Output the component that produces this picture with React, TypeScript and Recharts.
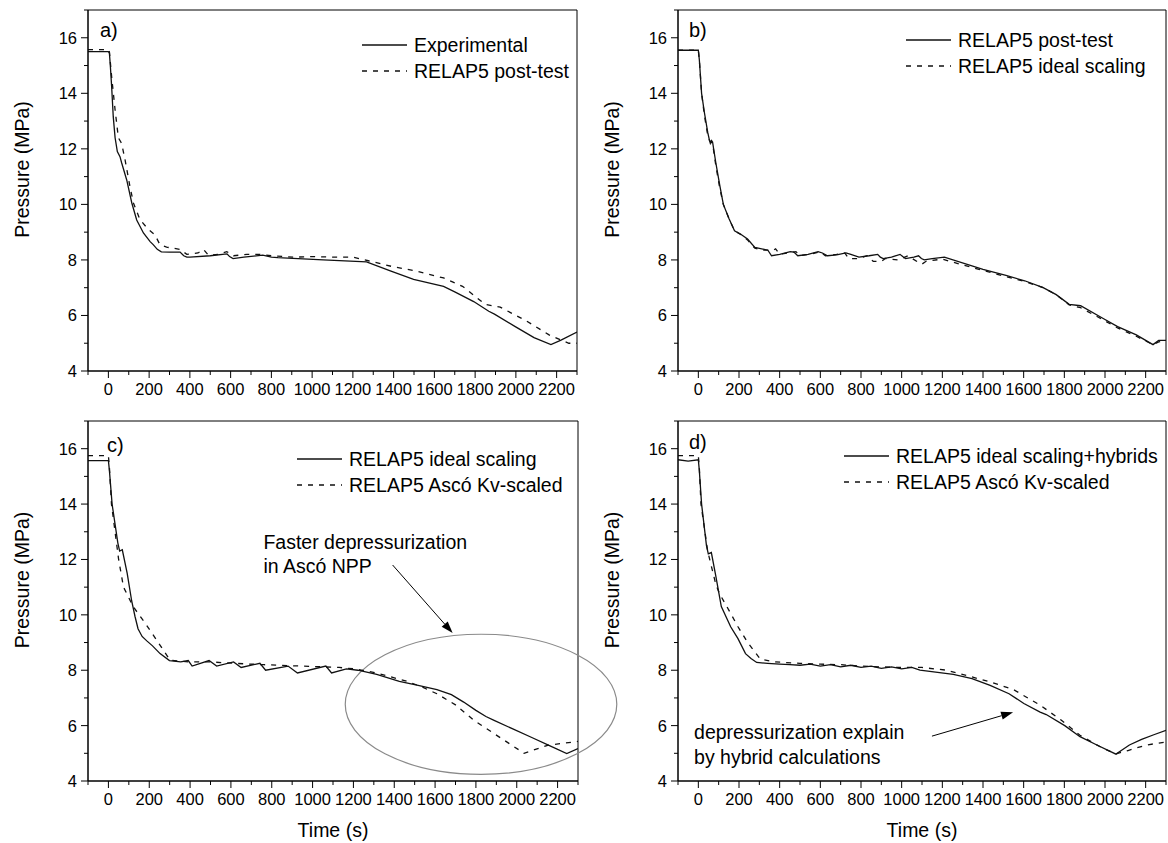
import React from "react";
import {
  LineChart,
  Line,
  XAxis,
  YAxis,
  ReferenceArea,
  ReferenceLine,
  ReferenceDot,
  Legend,
} from "recharts";

type Pt = [number, number];
type Series = { name: string; pts: Pt[]; dashed?: boolean };

const FONT = '"Liberation Sans", Arial, Helvetica, sans-serif';

// axis ticks (labels only on the 200 s / 2 MPa majors)
const xTicks = [-100, 0, 100, 200, 300, 400, 500, 600, 700, 800, 900, 1000, 1100, 1200, 1300, 1400, 1500, 1600, 1700, 1800, 1900, 2000, 2100, 2200, 2300];
const yTicks = [4, 5, 6, 7, 8, 9, 10, 11, 12, 13, 14, 15, 16, 17];

// a)
const aExperimental: Pt[] = [
  [-100, 15.5], [0, 15.5], [5, 15.45], [10, 14.95], [16, 14.25], [24, 13.15], [33, 12.4], [44, 11.9],
  [57, 11.72], [65, 11.5], [90, 10.88], [115, 10.05], [139, 9.44], [172, 8.97], [205, 8.66], [220, 8.55],
  [240, 8.38], [260, 8.29], [300, 8.28], [352, 8.28], [370, 8.15], [385, 8.1], [400, 8.1], [500, 8.15],
  [582, 8.22], [595, 8.12], [612, 8.05], [665, 8.1], [758, 8.17], [800, 8.1], [832, 8.08], [1054, 8.0],
  [1267, 7.93], [1387, 7.6], [1498, 7.3], [1645, 7.05], [1700, 6.85], [1793, 6.5], [1867, 6.15],
  [1895, 6.05], [1997, 5.6], [2089, 5.2], [2172, 4.95], [2219, 5.1], [2300, 5.4],
];
const aPostTest: Pt[] = [
  [-100, 15.57], [0, 15.57], [5, 15.5], [16, 14.6], [33, 13.4], [49, 12.4], [65, 12.2], [82, 11.6],
  [106, 10.64], [123, 10.05], [155, 9.45], [196, 9.1], [229, 8.9], [253, 8.55], [286, 8.46], [352, 8.38],
  [385, 8.2], [440, 8.25], [467, 8.38], [491, 8.17], [540, 8.2], [581, 8.3], [614, 8.15], [680, 8.2],
  [745, 8.2], [800, 8.15], [909, 8.1], [1000, 8.12], [1100, 8.1], [1200, 8.1], [1276, 7.97], [1400, 7.75],
  [1498, 7.62], [1645, 7.35], [1738, 7.05], [1849, 6.4], [1923, 6.3], [2052, 5.8], [2163, 5.3],
  [2219, 5.12], [2260, 5.0], [2300, 5.0],
];

// b)
const bPostTest: Pt[] = [
  [-100, 15.55], [0, 15.55], [5, 15.2], [16, 14.0], [30, 13.3], [46, 12.6], [55, 12.3], [59, 12.2],
  [65, 12.3], [70, 12.25], [86, 11.5], [105, 10.7], [123, 10.0], [150, 9.5], [178, 9.05], [214, 8.9],
  [242, 8.75], [278, 8.45], [324, 8.38], [342, 8.35], [360, 8.15], [400, 8.2], [452, 8.3], [470, 8.28],
  [489, 8.15], [540, 8.2], [589, 8.3], [610, 8.25], [635, 8.15], [680, 8.18], [726, 8.25], [750, 8.2],
  [790, 8.1], [840, 8.15], [882, 8.2], [895, 8.1], [909, 8.05], [950, 8.1], [992, 8.2], [1005, 8.12],
  [1019, 8.05], [1060, 8.1], [1083, 8.15], [1097, 8.05], [1111, 8.0], [1150, 8.05], [1210, 8.1],
  [1400, 7.66], [1513, 7.44], [1605, 7.25], [1696, 7.0], [1760, 6.75], [1824, 6.4], [1880, 6.35],
  [1989, 5.9], [2062, 5.6], [2154, 5.3], [2236, 4.95], [2264, 5.1], [2300, 5.1],
];
const bIdeal: Pt[] = [
  [-100, 15.55], [0, 15.55], [5, 15.2], [16, 14.0], [30, 13.2], [46, 12.5], [55, 12.3], [62, 12.25],
  [70, 12.2], [86, 11.4], [105, 10.6], [123, 10.0], [150, 9.5], [178, 9.05], [214, 8.9], [242, 8.72],
  [278, 8.42], [324, 8.35], [370, 8.35], [380, 8.4], [400, 8.2], [440, 8.25], [480, 8.3], [500, 8.15],
  [560, 8.22], [600, 8.3], [625, 8.15], [680, 8.2], [720, 8.25], [740, 8.05], [790, 8.05], [830, 8.15],
  [860, 7.95], [900, 7.95], [920, 8.05], [980, 8.0], [1000, 8.05], [1030, 8.15], [1080, 7.92],
  [1100, 7.85], [1120, 7.95], [1200, 8.03], [1300, 7.82], [1400, 7.62], [1513, 7.4], [1605, 7.22],
  [1696, 7.0], [1760, 6.75], [1824, 6.38], [1880, 6.28], [1989, 5.85], [2062, 5.55], [2154, 5.25],
  [2236, 4.95], [2264, 5.05], [2300, 5.1],
];

// c)
const cIdeal: Pt[] = [
  [-100, 15.57], [0, 15.57], [5, 15.2], [18, 14.0], [46, 12.6], [55, 12.3], [68, 12.35], [92, 11.5],
  [114, 10.5], [130, 9.95], [145, 9.5], [165, 9.22], [188, 9.06], [216, 8.88], [253, 8.6], [299, 8.35],
  [354, 8.3], [391, 8.35], [410, 8.15], [493, 8.35], [530, 8.15], [613, 8.3], [650, 8.1], [742, 8.25],
  [770, 8.0], [880, 8.15], [926, 7.9], [1065, 8.15], [1093, 7.9], [1166, 8.05], [1222, 8.0],
  [1314, 7.85], [1425, 7.6], [1517, 7.45], [1609, 7.3], [1680, 7.12], [1740, 6.85], [1800, 6.55],
  [1849, 6.33], [1889, 6.19], [1978, 5.89], [2071, 5.58], [2163, 5.27], [2245, 4.99], [2300, 5.17],
];
const cAsco: Pt[] = [
  [-100, 15.75], [0, 15.75], [5, 15.3], [15, 14.0], [50, 12.0], [74, 11.0], [122, 10.29], [180, 9.7],
  [237, 9.08], [302, 8.36], [391, 8.3], [500, 8.3], [613, 8.25], [760, 8.2], [945, 8.15], [1130, 8.1],
  [1203, 8.05], [1314, 7.9], [1462, 7.6], [1535, 7.4], [1609, 7.15], [1700, 6.75], [1790, 6.19],
  [2036, 5.0], [2151, 5.29], [2300, 5.43],
];

// d)
const dHybrid: Pt[] = [
  [-100, 15.6], [-50, 15.55], [0, 15.6], [5, 15.2], [16, 14.0], [40, 12.5], [49, 12.2], [64, 12.25],
  [86, 11.4], [113, 10.3], [159, 9.57], [195, 9.14], [232, 8.6], [259, 8.42], [287, 8.28], [341, 8.25],
  [400, 8.22], [450, 8.2], [500, 8.18], [550, 8.22], [600, 8.15], [650, 8.2], [700, 8.12], [750, 8.18],
  [800, 8.1], [850, 8.15], [900, 8.07], [950, 8.12], [1000, 8.05], [1050, 8.1], [1090, 8.0],
  [1254, 7.85], [1346, 7.7], [1435, 7.45], [1528, 7.15], [1601, 6.8], [1681, 6.49], [1711, 6.4],
  [1802, 6.0], [1877, 5.6], [1960, 5.3], [2054, 4.97], [2080, 5.1], [2120, 5.3], [2180, 5.5],
  [2240, 5.67], [2300, 5.83],
];
const dAsco: Pt[] = [
  [-100, 15.75], [0, 15.75], [5, 15.3], [13, 14.0], [46, 12.3], [86, 11.1], [104, 10.77], [150, 10.17],
  [195, 9.57], [241, 9.02], [278, 8.66], [305, 8.4], [378, 8.3], [500, 8.25], [600, 8.22], [700, 8.2],
  [800, 8.15], [900, 8.12], [1000, 8.1], [1100, 8.1], [1222, 8.0], [1435, 7.58], [1550, 7.3],
  [1681, 6.74], [1784, 6.2], [1877, 5.65], [1985, 5.2], [2054, 4.98], [2113, 5.1], [2204, 5.3],
  [2300, 5.41],
];

const cNote = ["Faster depressurization", "in Ascó NPP"];
const dNote = ["depressurization explain", "by hybrid calculations"];

const toRows = (pts: Pt[]) => pts.map(([t, p]) => ({ t, p }));

function XTick(props: any) {
  const { x, y, payload } = props;
  const v = payload.value;
  const major = v % 200 === 0;
  return (
    <g>
      <line x1={x} x2={x} y1={y} y2={y + (major ? 7 : 4)} stroke="#000" />
      {major && v >= 0 && v <= 2200 && (
        <text x={x} y={y + 24} textAnchor="middle" fontSize={16.5} fontFamily={FONT} fill="#000">
          {v}
        </text>
      )}
    </g>
  );
}

function YTick(props: any) {
  const { x, y, payload } = props;
  const v = payload.value;
  const major = v % 2 === 0;
  return (
    <g>
      <line x1={x} x2={x - (major ? 7 : 4)} y1={y} y2={y} stroke="#000" />
      {major && v <= 16 && (
        <text x={x - 11} y={y + 6} textAnchor="end" fontSize={16.5} fontFamily={FONT} fill="#000">
          {v}
        </text>
      )}
    </g>
  );
}

function pressureTitle(props: any) {
  const vb = props.viewBox;
  const cx = vb.x + vb.width - 66;
  const cy = vb.y + vb.height / 2 - 21;
  return (
    <text x={cx} y={cy} transform={`rotate(-90 ${cx} ${cy})`} textAnchor="middle" dominantBaseline="central" fontSize={19.5} fontFamily={FONT} fill="#000">
      Pressure (MPa)
    </text>
  );
}

function timeTitle(props: any) {
  const vb = props.viewBox;
  return (
    <text x={vb.x + vb.width / 2} y={vb.y + 49} textAnchor="middle" dominantBaseline="central" fontSize={19.5} fontFamily={FONT} fill="#000">
      Time (s)
    </text>
  );
}

const arrowShape = (p: any) => {
  const { x1, y1, x2, y2 } = p;
  const a = Math.atan2(y2 - y1, x2 - x1);
  const len = 12;
  const half = 4;
  const bx = x2 - len * Math.cos(a);
  const by = y2 - len * Math.sin(a);
  const pts = `${x2},${y2} ${bx - half * Math.sin(a)},${by + half * Math.cos(a)} ${bx + half * Math.sin(a)},${by - half * Math.cos(a)}`;
  return (
    <g>
      <line x1={x1} y1={y1} x2={bx} y2={by} stroke="#000" strokeWidth={1} />
      <polygon points={pts} fill="#000" />
    </g>
  );
};

const ellipseShape = (p: any) => (
  <ellipse cx={p.x + p.width / 2} cy={p.y + p.height / 2} rx={Math.abs(p.width) / 2} ry={Math.abs(p.height) / 2} fill="none" stroke="#8a8a8a" strokeWidth={1.2} />
);

const noteShape = (lines: string[], gap: number) => (p: any) => (
  <text x={p.cx} y={p.cy} fontSize={19.5} fontFamily={FONT} fill="#000">
    {lines.map((l, i) => (
      <tspan key={i} x={p.cx} dy={i === 0 ? 0 : gap}>
        {l}
      </tspan>
    ))}
  </text>
);

function LegendBox({ series }: { series: Series[] }) {
  return (
    <div style={{ fontFamily: FONT, fontSize: 19.5, color: "#000" }}>
      {series.map((s) => (
        <div key={s.name} style={{ display: "flex", alignItems: "center", height: 26, whiteSpace: "nowrap" }}>
          <svg width={45} height={4} style={{ marginRight: 7 }}>
            <line x1={0} x2={45} y1={2} y2={2} stroke="#111" strokeWidth={1.3} strokeDasharray={s.dashed ? "5 6" : undefined} />
          </svg>
          <span>{s.name}</span>
        </div>
      ))}
    </div>
  );
}

type PanelProps = {
  left: number;
  top: number;
  width: number;
  height: number;
  mTop: number;
  mRight: number;
  axisH: number;
  letter: string;
  letterPos: [number, number];
  legendPos: [number, number];
  series: Series[];
  showTime?: boolean;
  children?: React.ReactNode;
};

function Panel(p: PanelProps) {
  return (
    <div style={{ position: "absolute", left: p.left, top: p.top, width: p.width, height: p.height }}>
      <LineChart width={p.width} height={p.height} margin={{ top: p.mTop, right: p.mRight, bottom: 0, left: 0 }}>
        <XAxis
          dataKey="t"
          type="number"
          domain={[-100, 2300]}
          ticks={xTicks}
          interval={0}
          allowDataOverflow
          tickSize={0}
          tickMargin={0}
          tickLine={false}
          tick={(tp: any) => <XTick {...tp} />}
          axisLine={{ stroke: "#000" }}
          height={p.axisH}
          label={p.showTime ? timeTitle : undefined}
        />
        <YAxis
          type="number"
          domain={[4, 17]}
          ticks={yTicks}
          interval={0}
          allowDataOverflow
          tickSize={0}
          tickMargin={0}
          tickLine={false}
          tick={(tp: any) => <YTick {...tp} />}
          axisLine={{ stroke: "#000" }}
          width={88}
          label={pressureTitle}
        />
        <ReferenceArea x1={-100} x2={2300} y1={4} y2={17} stroke="#000" fill="none" ifOverflow="visible" />
        {p.series.map((s) => (
          <Line
            key={s.name}
            data={toRows(s.pts)}
            dataKey="p"
            name={s.name}
            type="linear"
            stroke="#111"
            strokeWidth={1.3}
            strokeDasharray={s.dashed ? "5 6" : undefined}
            dot={false}
            activeDot={false}
            isAnimationActive={false}
          />
        ))}
        {p.children}
        <Legend
          layout="horizontal"
          align="center"
          verticalAlign="middle"
          wrapperStyle={{ left: p.legendPos[0], top: p.legendPos[1], width: "auto", height: "auto" }}
          content={() => <LegendBox series={p.series} />}
        />
      </LineChart>
      <div style={{ position: "absolute", left: p.letterPos[0], top: p.letterPos[1], fontFamily: FONT, fontSize: 20, lineHeight: "22px", color: "#000" }}>
        {p.letter}
      </div>
    </div>
  );
}

export default function App() {
  const seriesA: Series[] = [
    { name: "Experimental", pts: aExperimental },
    { name: "RELAP5 post-test", pts: aPostTest, dashed: true },
  ];
  const seriesB: Series[] = [
    { name: "RELAP5 post-test", pts: bPostTest },
    { name: "RELAP5 ideal scaling", pts: bIdeal, dashed: true },
  ];
  const seriesC: Series[] = [
    { name: "RELAP5 ideal scaling", pts: cIdeal },
    { name: "RELAP5 Ascó Kv-scaled", pts: cAsco, dashed: true },
  ];
  const seriesD: Series[] = [
    { name: "RELAP5 ideal scaling+hybrids", pts: dHybrid },
    { name: "RELAP5 Ascó Kv-scaled", pts: dAsco, dashed: true },
  ];

  return (
    <div style={{ position: "absolute", left: 0, top: 0, width: 1168, height: 843, background: "#fff", overflow: "hidden" }}>
      <Panel left={0} top={0} width={600} height={421} mTop={10} mRight={23} axisH={50} letter="a)" letterPos={[100, 19]} legendPos={[362, 32]} series={seriesA} />
      <Panel left={590} top={0} width={578} height={421} mTop={10} mRight={2} axisH={50} letter="b)" letterPos={[99, 19]} legendPos={[316, 27]} series={seriesB} />
      <Panel left={0} top={410} width={640} height={433} mTop={11} mRight={62} axisH={62} letter="c)" letterPos={[107, 24]} legendPos={[297, 36]} series={seriesC} showTime>
        <ReferenceArea x1={1160} x2={2490} y1={4.24} y2={9.3} ifOverflow="visible" shape={ellipseShape} />
        <ReferenceLine segment={[{ x: 1392, y: 11.8 }, { x: 1686, y: 9.34 }]} ifOverflow="visible" shape={arrowShape} />
        <ReferenceDot x={759} y={12.38} ifOverflow="visible" shape={noteShape(cNote, 24)} />
      </Panel>
      <Panel left={590} top={410} width={578} height={433} mTop={11} mRight={2} axisH={62} letter="d)" letterPos={[99, 21]} legendPos={[254, 33]} series={seriesD} showTime>
        <ReferenceLine segment={[{ x: 1149, y: 5.62 }, { x: 1548, y: 6.48 }]} ifOverflow="visible" shape={arrowShape} />
        <ReferenceDot x={-21} y={5.52} ifOverflow="visible" shape={noteShape(dNote, 25)} />
      </Panel>
    </div>
  );
}
